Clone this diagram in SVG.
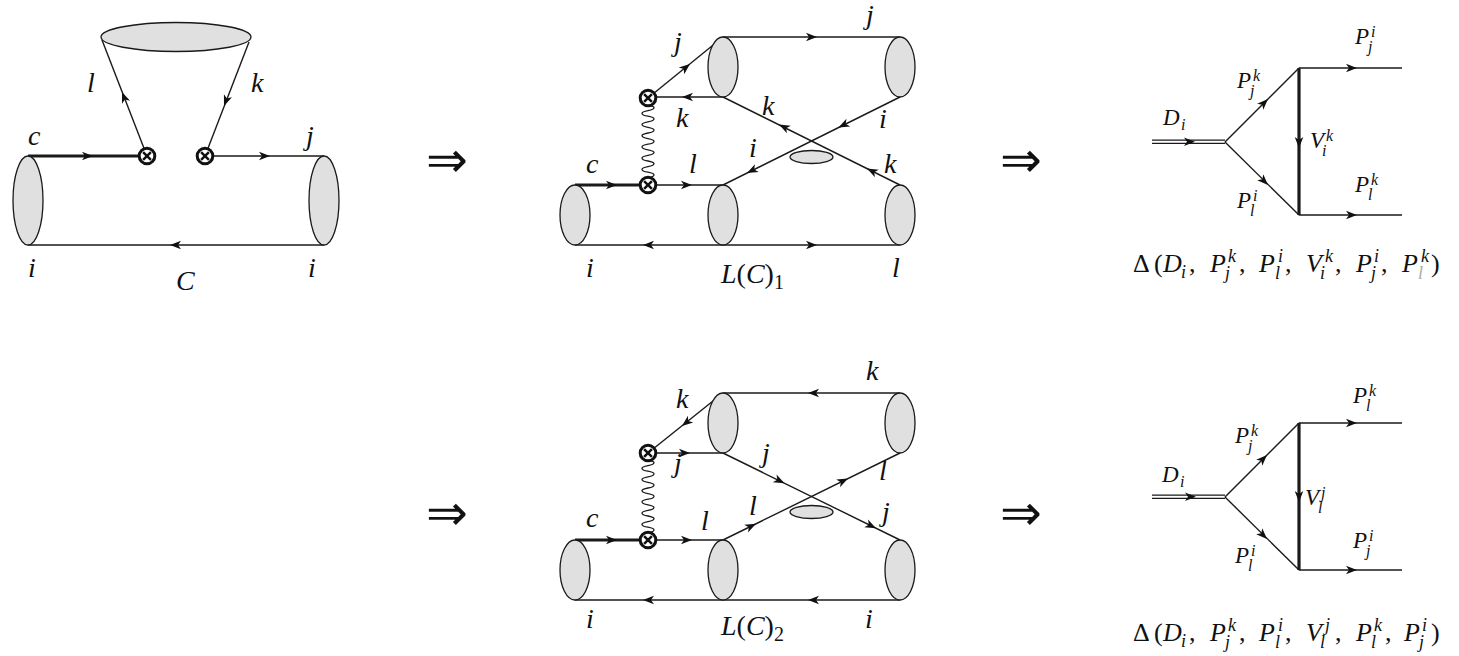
<svg xmlns="http://www.w3.org/2000/svg" xmlns:xlink="http://www.w3.org/1999/xlink" width="1459" height="656" viewBox="0 0 1459 656">
<defs>
<path id="ah" fill="#111" stroke="none" d="M0,0 L-11,-4.3 L-8,0 L-11,4.3 Z"/>
<g id="ox"><circle r="7.8" fill="#fff" stroke="#111" stroke-width="3"/><path d="M-3.9,-3.9 L3.9,3.9 M-3.9,3.9 L3.9,-3.9" fill="none" stroke="#111" stroke-width="2.5"/></g>
<path id="wv" fill="none" stroke="#1a1a1a" stroke-width="1.3" d="M0,0 c 8,1.4 8,4.2 0,5.6 c -8,1.4 -8,4.2 0,5.6 c 8,1.4 8,4.2 0,5.6 c -8,1.4 -8,4.2 0,5.6 c 8,1.4 8,4.2 0,5.6 c -8,1.4 -8,4.2 0,5.6 c 8,1.4 8,4.2 0,5.6 c -8,1.4 -8,4.2 0,5.6 c 8,1.4 8,4.2 0,5.6 c -8,1.4 -8,4.2 0,5.6 c 8,1.4 8,4.2 0,5.6 c -8,1.4 -8,4.2 0,5.6 c 8,1.4 8,4.2 0,5.6"/>
<ellipse id="cyl44" rx="15" ry="44.5" fill="#e0e0e0" stroke="#1a1a1a" stroke-width="1.3"/>
<ellipse id="cyl30" rx="15" ry="30" fill="#e0e0e0" stroke="#1a1a1a" stroke-width="1.3"/>
<ellipse id="smallblob" rx="21.5" ry="6.5" fill="#e0e0e0" stroke="#1a1a1a" stroke-width="1.3"/>
</defs>

<!-- ===================== Diagram C (left) ===================== -->
<g id="diagC">
  <g id="connectors-C" fill="none" stroke="#1a1a1a" stroke-width="1.4">
    <path stroke-width="3.2" d="M28,156 L147,156"/>
    <path d="M205,156 L324,156"/>
    <path d="M28,245 L324,245"/>
    <path d="M102,40 L147,156"/>
    <path d="M249,42 L205,156"/>
    <use xlink:href="#ah" transform="translate(93,156)"/>
    <use xlink:href="#ah" transform="translate(122,92) rotate(-111.5)"/>
    <use xlink:href="#ah" transform="translate(224,106) rotate(111)"/>
    <use xlink:href="#ah" transform="translate(270,156)"/>
    <use xlink:href="#ah" transform="translate(170,245) rotate(180)"/>
  </g>
  <g id="C-blob-top"><ellipse cx="176" cy="37" rx="75" ry="14.5" fill="#e0e0e0" stroke="#1a1a1a" stroke-width="1.3"/></g>
  <g id="C-blob-left"><use xlink:href="#cyl44" x="28" y="200.5"/></g>
  <g id="C-blob-right"><use xlink:href="#cyl44" x="324" y="200.5"/></g>
  <g id="C-vertex-1"><use xlink:href="#ox" transform="translate(147,156)"/></g>
  <g id="C-vertex-2"><use xlink:href="#ox" transform="translate(205,156)"/></g>
  <g id="C-labels" font-family="Liberation Serif" font-style="italic" font-size="28" fill="#111">
    <text font-family="Liberation Serif" x="28" y="145">c</text>
    <text font-family="Liberation Serif" x="87" y="92">l</text>
    <text font-family="Liberation Serif" x="251" y="92">k</text>
    <text font-family="Liberation Serif" x="306" y="145">j</text>
    <text font-family="Liberation Serif" x="28" y="277">i</text>
    <text font-family="Liberation Serif" x="308" y="277">i</text>
    <text font-family="Liberation Serif" x="176" y="290">C</text>
  </g>
</g>

<!-- implication arrows -->
<g id="implies" font-family="Liberation Serif" font-size="50" fill="#111">
  <text font-family="Liberation Serif" x="447" y="177" text-anchor="middle">⇒</text>
  <text font-family="Liberation Serif" x="1021" y="177" text-anchor="middle">⇒</text>
  <text font-family="Liberation Serif" x="447" y="530" text-anchor="middle">⇒</text>
  <text font-family="Liberation Serif" x="1021" y="530" text-anchor="middle">⇒</text>
</g>

<!-- ===================== L(C)1 (middle top) ===================== -->
<g id="diagL1">
  <g id="connectors-L1" fill="none" stroke="#1a1a1a" stroke-width="1.4">
    <path stroke-width="3.2" d="M575,185 L648,185"/>
    <path d="M648,185 L723,185"/>
    <path d="M648,98 L723,37"/>
    <path d="M723,97 L648,97"/>
    <path d="M723,37 L900,37"/>
    <path d="M723,97 L900,185"/>
    <path d="M900,97 L723,185"/>
    <path d="M575,245 L900,245"/>
    <use xlink:href="#wv" transform="translate(648,105)"/>
    <use xlink:href="#ah" transform="translate(617,185)"/>
    <use xlink:href="#ah" transform="translate(692,185)"/>
    <use xlink:href="#ah" transform="translate(690,64) rotate(-39)"/>
    <use xlink:href="#ah" transform="translate(682,97) rotate(180)"/>
    <use xlink:href="#ah" transform="translate(817,37)"/>
    <use xlink:href="#ah" transform="translate(779,124.6) rotate(-153.6)"/>
    <use xlink:href="#ah" transform="translate(867,168.6) rotate(-153.6)"/>
    <use xlink:href="#ah" transform="translate(838.5,127.6) rotate(153.6)"/>
    <use xlink:href="#ah" transform="translate(747,173) rotate(153.6)"/>
    <use xlink:href="#ah" transform="translate(643,245) rotate(180)"/>
    <use xlink:href="#ah" transform="translate(817,245)"/>
  </g>
  <g id="L1-blob-a"><use xlink:href="#cyl30" x="575" y="215"/></g>
  <g id="L1-blob-b"><use xlink:href="#cyl30" x="723" y="67"/></g>
  <g id="L1-blob-c"><use xlink:href="#cyl30" x="900" y="67"/></g>
  <g id="L1-blob-d"><use xlink:href="#cyl30" x="723" y="215"/></g>
  <g id="L1-blob-e"><use xlink:href="#cyl30" x="900" y="215"/></g>
  <g id="L1-blob-small"><use xlink:href="#smallblob" x="811.5" y="157"/></g>
  <g id="L1-vertex-1"><use xlink:href="#ox" transform="translate(648,98)"/></g>
  <g id="L1-vertex-2"><use xlink:href="#ox" transform="translate(648,185)"/></g>
  <g id="L1-labels" font-family="Liberation Serif" font-style="italic" font-size="28" fill="#111">
    <text font-family="Liberation Serif" x="674" y="51">j</text>
    <text font-family="Liberation Serif" x="676" y="127">k</text>
    <text font-family="Liberation Serif" x="866" y="24">j</text>
    <text font-family="Liberation Serif" x="762" y="115">k</text>
    <text font-family="Liberation Serif" x="879" y="128">i</text>
    <text font-family="Liberation Serif" x="749" y="157">i</text>
    <text font-family="Liberation Serif" x="884" y="173">k</text>
    <text font-family="Liberation Serif" x="586" y="173">c</text>
    <text font-family="Liberation Serif" x="689" y="173">l</text>
    <text font-family="Liberation Serif" x="586" y="277">i</text>
    <text font-family="Liberation Serif" x="892" y="277">l</text>
    <text font-family="Liberation Serif" x="721" y="283">L<tspan font-style="normal">(</tspan>C<tspan font-style="normal">)</tspan><tspan font-style="normal" font-size="20" dy="6">1</tspan></text>
  </g>
</g>

<!-- ===================== L(C)2 (middle bottom) ===================== -->
<g id="diagL2">
  <g id="connectors-L2" fill="none" stroke="#1a1a1a" stroke-width="1.4">
    <path stroke-width="3.2" d="M575,540 L648,540"/>
    <path d="M648,540 L723,540"/>
    <path d="M723,393 L648,453"/>
    <path d="M648,453 L723,453"/>
    <path d="M723,393 L900,393"/>
    <path d="M723,453 L900,540"/>
    <path d="M723,540 L900,453"/>
    <path d="M575,600 L900,600"/>
    <use xlink:href="#wv" transform="translate(648,460)"/>
    <use xlink:href="#ah" transform="translate(617,540)"/>
    <use xlink:href="#ah" transform="translate(692,540)"/>
    <use xlink:href="#ah" transform="translate(682,426) rotate(141.3)"/>
    <use xlink:href="#ah" transform="translate(690,453)"/>
    <use xlink:href="#ah" transform="translate(808,393) rotate(180)"/>
    <use xlink:href="#ah" transform="translate(784.5,483.2) rotate(26.2)"/>
    <use xlink:href="#ah" transform="translate(876,528.2) rotate(26.2)"/>
    <use xlink:href="#ah" transform="translate(756,523.8) rotate(-26.2)"/>
    <use xlink:href="#ah" transform="translate(848,478.6) rotate(-26.2)"/>
    <use xlink:href="#ah" transform="translate(643,600) rotate(180)"/>
    <use xlink:href="#ah" transform="translate(808,600) rotate(180)"/>
  </g>
  <g id="L2-blob-a"><use xlink:href="#cyl30" x="575" y="570"/></g>
  <g id="L2-blob-b"><use xlink:href="#cyl30" x="723" y="423"/></g>
  <g id="L2-blob-c"><use xlink:href="#cyl30" x="900" y="423"/></g>
  <g id="L2-blob-d"><use xlink:href="#cyl30" x="723" y="570"/></g>
  <g id="L2-blob-e"><use xlink:href="#cyl30" x="900" y="570"/></g>
  <g id="L2-blob-small"><use xlink:href="#smallblob" x="811.5" y="512"/></g>
  <g id="L2-vertex-1"><use xlink:href="#ox" transform="translate(648,453)"/></g>
  <g id="L2-vertex-2"><use xlink:href="#ox" transform="translate(648,540)"/></g>
  <g id="L2-labels" font-family="Liberation Serif" font-style="italic" font-size="28" fill="#111">
    <text font-family="Liberation Serif" x="866" y="380">k</text>
    <text font-family="Liberation Serif" x="676" y="408">k</text>
    <text font-family="Liberation Serif" x="674" y="472">j</text>
    <text font-family="Liberation Serif" x="762" y="462">j</text>
    <text font-family="Liberation Serif" x="879" y="480">l</text>
    <text font-family="Liberation Serif" x="749" y="515">l</text>
    <text font-family="Liberation Serif" x="882" y="521">j</text>
    <text font-family="Liberation Serif" x="586" y="527">c</text>
    <text font-family="Liberation Serif" x="701" y="530">l</text>
    <text font-family="Liberation Serif" x="586" y="628">i</text>
    <text font-family="Liberation Serif" x="865" y="628">i</text>
    <text font-family="Liberation Serif" x="721" y="635">L<tspan font-style="normal">(</tspan>C<tspan font-style="normal">)</tspan><tspan font-style="normal" font-size="20" dy="6">2</tspan></text>
  </g>
</g>

<!-- ===================== Triangle 1 (right top) ===================== -->
<g id="diagT1">
  <g id="connectors-T1" fill="none" stroke="#1a1a1a" stroke-width="1.4">
    <path stroke-width="1.2" d="M1152,140.2 L1225,140.2 M1152,143.4 L1225,143.4"/>
    <path d="M1225,142 L1299,68"/>
    <path d="M1225,142 L1299,215"/>
    <path stroke-width="3.2" d="M1299,68 L1299,215"/>
    <path stroke-width="1.6" d="M1299,68 L1402,68"/>
    <path stroke-width="1.6" d="M1299,215 L1402,215"/>
    <use xlink:href="#ah" transform="translate(1195,141.8)"/>
    <use xlink:href="#ah" transform="translate(1268,99) rotate(-45)"/>
    <use xlink:href="#ah" transform="translate(1268,185) rotate(45)"/>
    <use xlink:href="#ah" transform="translate(1299,148) rotate(90)"/>
    <use xlink:href="#ah" transform="translate(1357,68)"/>
    <use xlink:href="#ah" transform="translate(1357,215)"/>
  </g>
  <g id="T1-labels" font-family="Liberation Serif" font-style="italic" font-size="23" fill="#111">
    <text font-family="Liberation Serif" x="1163" y="125">D<tspan font-size="16" x="1181" y="130">i</tspan></text>
    <text font-family="Liberation Serif" x="1355" y="44">P<tspan font-size="16" x="1371" y="37">i</tspan><tspan font-size="16" x="1368" y="52">j</tspan></text>
    <text font-family="Liberation Serif" x="1237" y="88">P<tspan font-size="16" x="1253" y="81">k</tspan><tspan font-size="16" x="1250" y="96">j</tspan></text>
    <text font-family="Liberation Serif" x="1310" y="148">V<tspan font-size="16" x="1326" y="141">k</tspan><tspan font-size="16" x="1322" y="156">i</tspan></text>
    <text font-family="Liberation Serif" x="1355" y="192">P<tspan font-size="16" x="1371" y="185">k</tspan><tspan font-size="16" x="1368" y="200">l</tspan></text>
    <text font-family="Liberation Serif" x="1237" y="208">P<tspan font-size="16" x="1253" y="201">i</tspan><tspan font-size="16" x="1250" y="216">l</tspan></text>
  </g>
  <g id="T1-formula" font-family="Liberation Serif" font-style="italic" font-size="26" fill="#111">
    <text font-family="Liberation Serif" y="272"><tspan font-style="normal" x="1133">Δ</tspan><tspan font-style="normal" x="1154">(</tspan><tspan x="1163">D</tspan><tspan font-size="18" x="1181" y="278">i</tspan><tspan font-style="normal" x="1189" y="272">,</tspan><tspan x="1210">P</tspan><tspan font-size="18" x="1228" y="262">k</tspan><tspan font-size="18" x="1225" y="279">j</tspan><tspan font-style="normal" x="1239" y="272">,</tspan><tspan x="1259">P</tspan><tspan font-size="18" x="1278" y="262">i</tspan><tspan font-size="18" x="1275" y="279">l</tspan><tspan font-style="normal" x="1285" y="272">,</tspan><tspan x="1306">V</tspan><tspan font-size="18" x="1325" y="262">k</tspan><tspan font-size="18" x="1320" y="279">i</tspan><tspan font-style="normal" x="1335" y="272">,</tspan><tspan x="1356">P</tspan><tspan font-size="18" x="1374" y="262">i</tspan><tspan font-size="18" x="1371" y="279">j</tspan><tspan font-style="normal" x="1381" y="272">,</tspan><tspan x="1402">P</tspan><tspan font-size="18" x="1421" y="262">k</tspan><tspan font-size="18" x="1418" y="279" fill="#aaa">l</tspan><tspan font-style="normal" x="1431" y="272">)</tspan></text>
  </g>
</g>

<!-- ===================== Triangle 2 (right bottom) ===================== -->
<g id="diagT2">
  <g id="connectors-T2" fill="none" stroke="#1a1a1a" stroke-width="1.4">
    <path stroke-width="1.2" d="M1152,495.2 L1225,495.2 M1152,498.4 L1225,498.4"/>
    <path d="M1225,497 L1299,423"/>
    <path d="M1225,497 L1299,570"/>
    <path stroke-width="3.2" d="M1299,423 L1299,570"/>
    <path stroke-width="1.6" d="M1299,423 L1402,423"/>
    <path stroke-width="1.6" d="M1299,570 L1402,570"/>
    <use xlink:href="#ah" transform="translate(1196,496.8)"/>
    <use xlink:href="#ah" transform="translate(1267,455) rotate(-45)"/>
    <use xlink:href="#ah" transform="translate(1267,539) rotate(45)"/>
    <use xlink:href="#ah" transform="translate(1299,502) rotate(90)"/>
    <use xlink:href="#ah" transform="translate(1357,423)"/>
    <use xlink:href="#ah" transform="translate(1357,570)"/>
  </g>
  <g id="T2-labels" font-family="Liberation Serif" font-style="italic" font-size="23" fill="#111">
    <text font-family="Liberation Serif" x="1162" y="482">D<tspan font-size="16" x="1180" y="487">i</tspan></text>
    <text font-family="Liberation Serif" x="1353" y="403">P<tspan font-size="16" x="1369" y="396">k</tspan><tspan font-size="16" x="1366" y="411">l</tspan></text>
    <text font-family="Liberation Serif" x="1235" y="443">P<tspan font-size="16" x="1251" y="436">k</tspan><tspan font-size="16" x="1248" y="451">j</tspan></text>
    <text font-family="Liberation Serif" x="1305" y="505">V<tspan font-size="16" x="1321" y="498">j</tspan><tspan font-size="16" x="1318" y="513">l</tspan></text>
    <text font-family="Liberation Serif" x="1353" y="548">P<tspan font-size="16" x="1369" y="541">i</tspan><tspan font-size="16" x="1366" y="556">j</tspan></text>
    <text font-family="Liberation Serif" x="1235" y="563">P<tspan font-size="16" x="1251" y="556">i</tspan><tspan font-size="16" x="1248" y="571">l</tspan></text>
  </g>
  <g id="T2-formula" font-family="Liberation Serif" font-style="italic" font-size="26" fill="#111">
    <text font-family="Liberation Serif" y="641"><tspan font-style="normal" x="1133">Δ</tspan><tspan font-style="normal" x="1154">(</tspan><tspan x="1163">D</tspan><tspan font-size="18" x="1181" y="647">i</tspan><tspan font-style="normal" x="1189" y="641">,</tspan><tspan x="1210">P</tspan><tspan font-size="18" x="1228" y="631">k</tspan><tspan font-size="18" x="1225" y="648">j</tspan><tspan font-style="normal" x="1239" y="641">,</tspan><tspan x="1259">P</tspan><tspan font-size="18" x="1278" y="631">i</tspan><tspan font-size="18" x="1275" y="648">l</tspan><tspan font-style="normal" x="1285" y="641">,</tspan><tspan x="1306">V</tspan><tspan font-size="18" x="1325" y="631">j</tspan><tspan font-size="18" x="1320" y="648">l</tspan><tspan font-style="normal" x="1335" y="641">,</tspan><tspan x="1356">P</tspan><tspan font-size="18" x="1374" y="631">k</tspan><tspan font-size="18" x="1371" y="648">l</tspan><tspan font-style="normal" x="1385" y="641">,</tspan><tspan x="1404">P</tspan><tspan font-size="18" x="1422" y="631">i</tspan><tspan font-size="18" x="1419" y="648">j</tspan><tspan font-style="normal" x="1431" y="641">)</tspan></text>
  </g>
</g>
</svg>
